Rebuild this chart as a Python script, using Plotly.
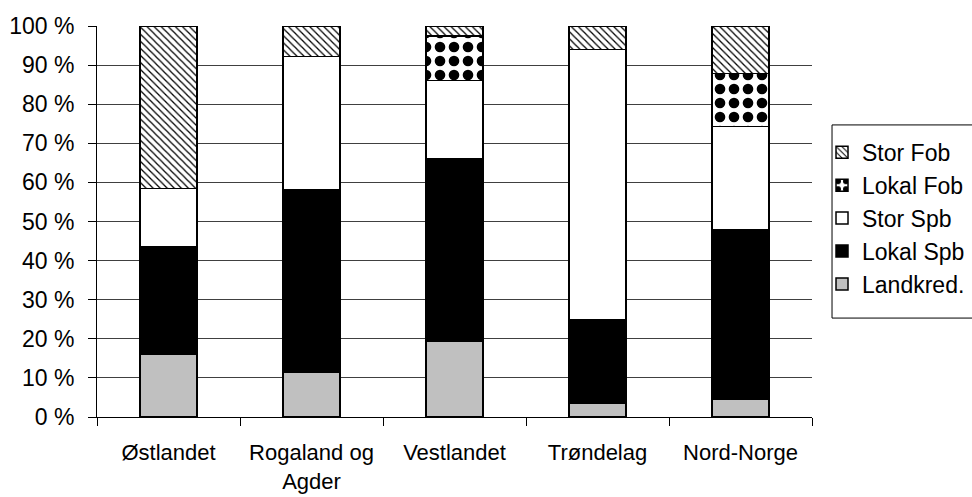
import plotly.graph_objects as go

# Regions and the share (%) of each lender type, stacked to 100 %
regions = ["Østlandet", "Rogaland og<br>Agder", "Vestlandet", "Trøndelag", "Nord-Norge"]
landkred = [16.0, 11.5, 19.5, 3.5, 4.5]
lokal_spb = [27.5, 46.7, 46.5, 21.5, 43.5]
stor_spb = [15.0, 34.0, 20.0, 69.0, 26.3]
lokal_fob = [0.0, 0.0, 11.5, 0.0, 13.6]
stor_fob = [41.5, 7.8, 2.5, 6.0, 12.1]

y_ticks = [0, 10, 20, 30, 40, 50, 60, 70, 80, 90, 100]
y_tick_text = ["0 %", "10 %", "20 %", "30 %", "40 %", "50 %", "60 %", "70 %", "80 %", "90 %", "100 %"]

FONT = "Liberation Sans, Arial, sans-serif"
FS = 23
edge = dict(color="black", width=1.5)

series = [
    ("Landkred.", landkred, dict(color="#c0c0c0", line=edge)),
    ("Lokal Spb", lokal_spb, dict(color="black", line=edge)),
    ("Stor Spb", stor_spb, dict(color="white", line=edge)),
    ("Lokal Fob", lokal_fob, dict(color="white", line=edge,
                                  pattern=dict(shape=".", fgcolor="black", bgcolor="white",
                                               size=14, solidity=0.45, fgopacity=1,
                                               fillmode="replace"))),
    ("Stor Fob", stor_fob, dict(color="white", line=edge,
                                pattern=dict(shape="\\", fgcolor="black", bgcolor="white",
                                             size=5, solidity=0.25, fgopacity=1,
                                             fillmode="replace"))),
]

fig = go.Figure()
n = len(series)
for i, (name, vals, marker) in enumerate(series):
    fig.add_trace(go.Bar(
        x=regions, y=vals, name=name, marker=marker, width=0.4,
        legendgroup=f"g{i}", legendrank=n - i,
    ))

# frame around the legend, running off the right edge of the page
fig.add_shape(type="rect", xref="paper", yref="paper",
              x0=1.028, x1=1.25, y0=0.253, y1=0.747,
              line=dict(color="black", width=1), fillcolor="rgba(0,0,0,0)")

fig.update_layout(
    barmode="stack",
    width=972, height=497,
    margin=dict(l=97, r=160, t=26, b=80, autoexpand=False),
    paper_bgcolor="white", plot_bgcolor="white",
    font=dict(family=FONT, size=FS, color="black"),
    showlegend=True,
    legend=dict(
        x=1.014, xanchor="left", y=0.508, yanchor="middle",
        traceorder="grouped", tracegroupgap=0,
        borderwidth=0, bgcolor="rgba(0,0,0,0)",
        font=dict(family=FONT, size=FS, color="black"),
        itemwidth=30,
    ),
    xaxis=dict(
        showline=True, linecolor="black", linewidth=1,
        ticks="outside", tickson="boundaries", ticklen=8, tickcolor="black",
        showgrid=False, ticklabelstandoff=16, automargin=False,
        tickfont=dict(family=FONT, size=22, color="black"),
    ),
    yaxis=dict(
        range=[0, 100], tickmode="array", tickvals=y_ticks, ticktext=y_tick_text,
        showline=True, linecolor="black", linewidth=1,
        ticks="outside", ticklen=8, tickcolor="black",
        showgrid=True, gridcolor="#404040", gridwidth=1,
        zeroline=False, ticklabelstandoff=9, automargin=False,
    ),
)

fig.write_html("out.html")
